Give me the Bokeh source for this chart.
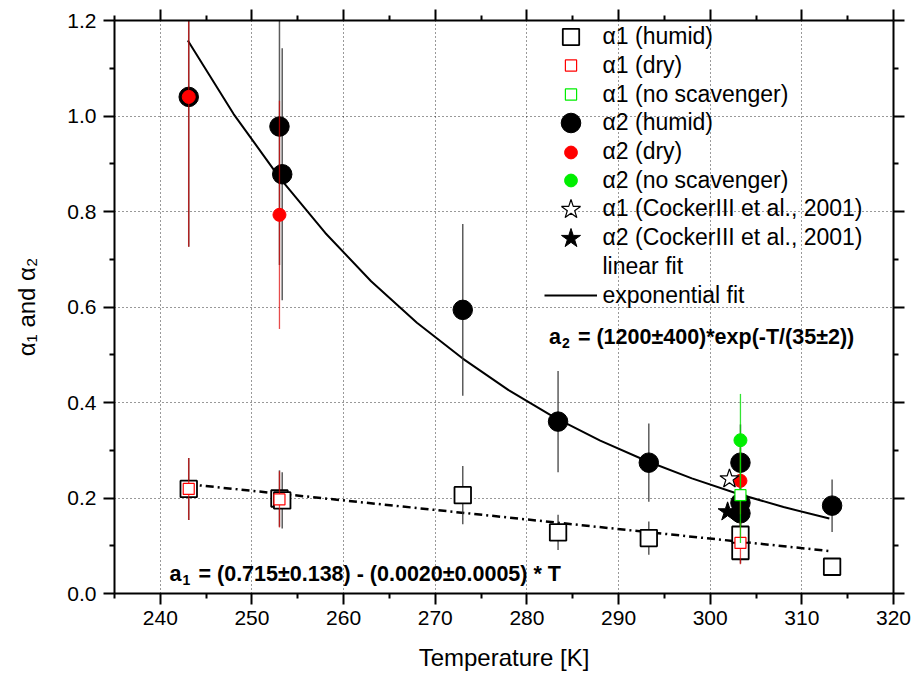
import numpy as np
from bokeh.plotting import figure
from bokeh.models import (Range1d, LinearAxis, FixedTicker, Legend, LegendItem, Label,
                          NumeralTickFormatter)
from bokeh.embed import file_html
from bokeh.resources import INLINE

FONT = "Liberation Sans"

# ---------------- data ----------------
# alpha1 (humid)
T_a1_humid = [243.1, 253.0, 253.3, 273.0, 283.4, 293.3, 303.3, 303.3, 313.3]
a1_humid = [0.219, 0.199, 0.195, 0.206, 0.128, 0.116, 0.123, 0.089, 0.056]
a1_humid_err = [0.065, 0.059, 0.059, 0.061, 0.037, 0.035, 0.030, 0.026, 0.0]
# alpha1 (dry)
T_a1_dry = [243.1, 253.0, 303.3]
a1_dry = [0.219, 0.197, 0.106]
a1_dry_err = [0.065, 0.059, 0.045]
# alpha1 (no scavenger)
T_a1_nosc = [303.3]
a1_nosc = [0.206]
a1_nosc_err = [0.10]
# alpha2 (humid)
T_a2_humid = [243.1, 253.0, 253.3, 273.0, 283.4, 293.3, 303.3, 303.3, 303.3, 313.3]
a2_humid = [1.040, 0.978, 0.878, 0.594, 0.360, 0.274, 0.274, 0.190, 0.168, 0.184]
a2_humid_err = [0.314, 0.290, 0.264, 0.180, 0.106, 0.082, 0.080, 0.060, 0.060, 0.055]
# alpha2 (dry)
T_a2_dry = [243.1, 253.0, 303.3]
a2_dry = [1.040, 0.793, 0.236]
a2_dry_err = [0.314, 0.239, 0.070]
# alpha2 (no scavenger)
T_a2_nosc = [303.3]
a2_nosc = [0.321]
a2_nosc_err = [0.097]
# CockerIII et al., 2001
T_a1_cocker = [302.1]
a1_cocker = [0.240]
T_a2_cocker = [301.9]
a2_cocker = [0.171]
# fits
T_lin_fit = [243, 313]
lin_fit = [0.229, 0.089]
T_exp_fit = [243, 248, 253, 258, 263, 268, 273, 278, 283, 288, 293, 298, 303, 308, 313]
exp_fit = [1.158, 1.004, 0.871, 0.755, 0.654, 0.567, 0.492, 0.426, 0.369, 0.320,
           0.278, 0.241, 0.209, 0.181, 0.157]

# axis ticks
x_major = [240, 250, 260, 270, 280, 290, 300, 310, 320]
x_minor = [235, 245, 255, 265, 275, 285, 295, 305, 315]
y_major = [0.0, 0.2, 0.4, 0.6, 0.8, 1.0, 1.2]
y_minor = [0.1, 0.3, 0.5, 0.7, 0.9, 1.1]
x_grid = [240, 250, 260, 270, 280, 290, 300, 310]
y_grid = [0.2, 0.4, 0.6, 0.8, 1.0]

legend_labels = ["\u03b11 (humid)", "\u03b11 (dry)", "\u03b11 (no scavenger)",
                 "\u03b12 (humid)", "\u03b12 (dry)", "\u03b12 (no scavenger)",
                 "\u03b11 (CockerIII et al., 2001)", "\u03b12 (CockerIII et al., 2001)",
                 "linear fit", "exponential fit"]


def bars(T, v, e):
    v = np.asarray(v); e = np.asarray(e)
    return dict(x0=T, x1=T, y0=v - e, y1=v + e)


p = figure(width=914, height=681, x_range=Range1d(235, 320), y_range=Range1d(0, 1.2),
           output_backend="svg", toolbar_location=None,
           min_border_left=114, min_border_right=21, min_border_top=20, min_border_bottom=88,
           background_fill_color="white", border_fill_color="white")
p.outline_line_color = None

xt = FixedTicker(ticks=x_major, minor_ticks=x_minor)
yt = FixedTicker(ticks=y_major, minor_ticks=y_minor)

for ax, tk in ((p.xaxis[0], xt), (p.yaxis[0], yt)):
    ax.ticker = tk
    ax.axis_line_width = 2
    ax.major_tick_line_width = 2
    ax.minor_tick_line_width = 2
    ax.major_tick_out = 11
    ax.major_tick_in = 0
    ax.minor_tick_out = 5
    ax.minor_tick_in = 0
    ax.major_label_text_font = FONT
    ax.major_label_text_font_size = "21px"
    ax.major_label_text_color = "black"
    ax.axis_label_text_font = FONT
    ax.axis_label_text_font_size = "24px"
    ax.axis_label_text_font_style = "normal"
    ax.axis_label_text_color = "black"

p.xaxis[0].formatter = NumeralTickFormatter(format="0")
p.yaxis[0].formatter = NumeralTickFormatter(format="0.0")
p.xaxis[0].axis_label = "Temperature [K]"
p.yaxis[0].axis_label = "\u03b1\u2081 and \u03b1\u2082"
p.xaxis[0].major_label_standoff = 6
p.yaxis[0].major_label_standoff = 7
p.xaxis[0].axis_label_standoff = 16
p.yaxis[0].axis_label_standoff = 24

for loc, tk in (("above", xt), ("right", yt)):
    ax = LinearAxis(ticker=tk, axis_line_width=2, major_tick_line_width=2, minor_tick_line_width=2,
                    major_tick_out=11, major_tick_in=0, minor_tick_out=5, minor_tick_in=0,
                    major_label_text_font_size="0px", major_label_text_alpha=0,
                    major_label_standoff=0)
    p.add_layout(ax, loc)

for g, ticks in ((p.xgrid[0], x_grid), (p.ygrid[0], y_grid)):
    g.ticker = FixedTicker(ticks=ticks)
    g.grid_line_color = "black"
    g.grid_line_alpha = 0.8
    g.grid_line_dash = "1 3"
    g.grid_line_width = 1

# fits
r_exp = p.line(T_exp_fit, exp_fit, line_color="black", line_width=2)
p.line(T_lin_fit, lin_fit, line_color="black", line_width=2.5, line_dash="8 4 2 4")
r_lin_dummy = p.line(T_lin_fit, lin_fit, line_alpha=0)

# black error bars
p.segment(**bars(T_a1_humid, a1_humid, a1_humid_err), line_color="#333333", line_width=1.5, line_alpha=0.8)
p.segment(**bars(T_a2_humid, a2_humid, a2_humid_err), line_color="#333333", line_width=1.5, line_alpha=0.8)

r_a1h = p.scatter(T_a1_humid, a1_humid, marker="square", size=16.5, fill_color="white",
                  line_color="black", line_width=1.8)
r_a2h = p.scatter(T_a2_humid, a2_humid, marker="circle", size=19.5, fill_color="black",
                  line_color="black")

# red
p.segment(**bars(T_a1_dry, a1_dry, a1_dry_err), line_color="#dd0000", line_width=1.3, line_alpha=0.7)
p.segment(**bars(T_a2_dry, a2_dry, a2_dry_err), line_color="#dd0000", line_width=1.3, line_alpha=0.7)
r_a1d = p.scatter(T_a1_dry, a1_dry, marker="square", size=11, fill_color="white",
                  line_color="#ff0000", line_width=1.2)
r_a2d = p.scatter(T_a2_dry, a2_dry, marker="circle", size=13, fill_color="#ff0000",
                  line_color="#ff0000")

# green
p.segment(**bars(T_a1_nosc, a1_nosc, a1_nosc_err), line_color="#00dd00", line_width=1.3, line_alpha=0.8)
p.segment(**bars(T_a2_nosc, a2_nosc, a2_nosc_err), line_color="#00dd00", line_width=1.3, line_alpha=0.8)
r_a1n = p.scatter(T_a1_nosc, a1_nosc, marker="square", size=11, fill_color="white",
                  line_color="#00ee00", line_width=1.2)
r_a2n = p.scatter(T_a2_nosc, a2_nosc, marker="circle", size=13, fill_color="#00ee00",
                  line_color="#00ee00")

# stars
r_a1c = p.scatter(T_a1_cocker, a1_cocker, marker="star", size=20, fill_color="white",
                  line_color="black", line_width=1.2)
r_a2c = p.scatter(T_a2_cocker, a2_cocker, marker="star", size=20, fill_color="black",
                  line_color="black")


# annotations (a + subscript + rest, as separate text pieces)
def fit_label(x, y, sub, rest):
    common = dict(text_font=FONT, text_font_style="bold", text_color="black",
                  text_baseline="alphabetic")
    p.add_layout(Label(x=x, y=y, text="a", text_font_size="21.5px", **common))
    p.add_layout(Label(x=x, y=y, x_offset=13, y_offset=-6, text=sub,
                       text_font_size="14px", **common))
    p.add_layout(Label(x=x, y=y, x_offset=29, text=rest, text_font_size="21.5px", **common))


fit_label(282.4, 0.537, "2", "= (1200\u00b1400)*exp(-T/(35\u00b12))")
fit_label(241.0, 0.040, "1", "= (0.715\u00b10.138) - (0.0020\u00b10.0005) * T")

# legend: one single-row legend per entry so each marker keeps its own size
renderers = [r_a1h, r_a1d, r_a1n, r_a2h, r_a2d, r_a2n, r_a1c, r_a2c, r_lin_dummy, r_exp]
glyph_sizes = [16.5, 11, 11, 19.5, 13, 13, 20, 20, 12, 12]
frame_h = 681 - 20 - 88
row_pitch = 28.7
first_center = 16.7
glyph_w = 53
for i, (lab, rr, sz) in enumerate(zip(legend_labels, renderers, glyph_sizes)):
    gh = int(round(sz / 0.4))
    c = first_center + row_pitch * i
    vy = frame_h - (c + gh / 2.0)
    leg = Legend(items=[LegendItem(label=lab, renderers=[rr])], location=(429.5, vy),
                 glyph_width=glyph_w, glyph_height=gh, label_height=gh, label_standoff=6,
                 padding=0, margin=0, spacing=0, border_line_alpha=0,
                 background_fill_alpha=0, label_text_font=FONT,
                 label_text_font_size="23px", label_text_color="black")
    p.add_layout(leg)

open("out.html", "w").write(file_html(p, INLINE))
